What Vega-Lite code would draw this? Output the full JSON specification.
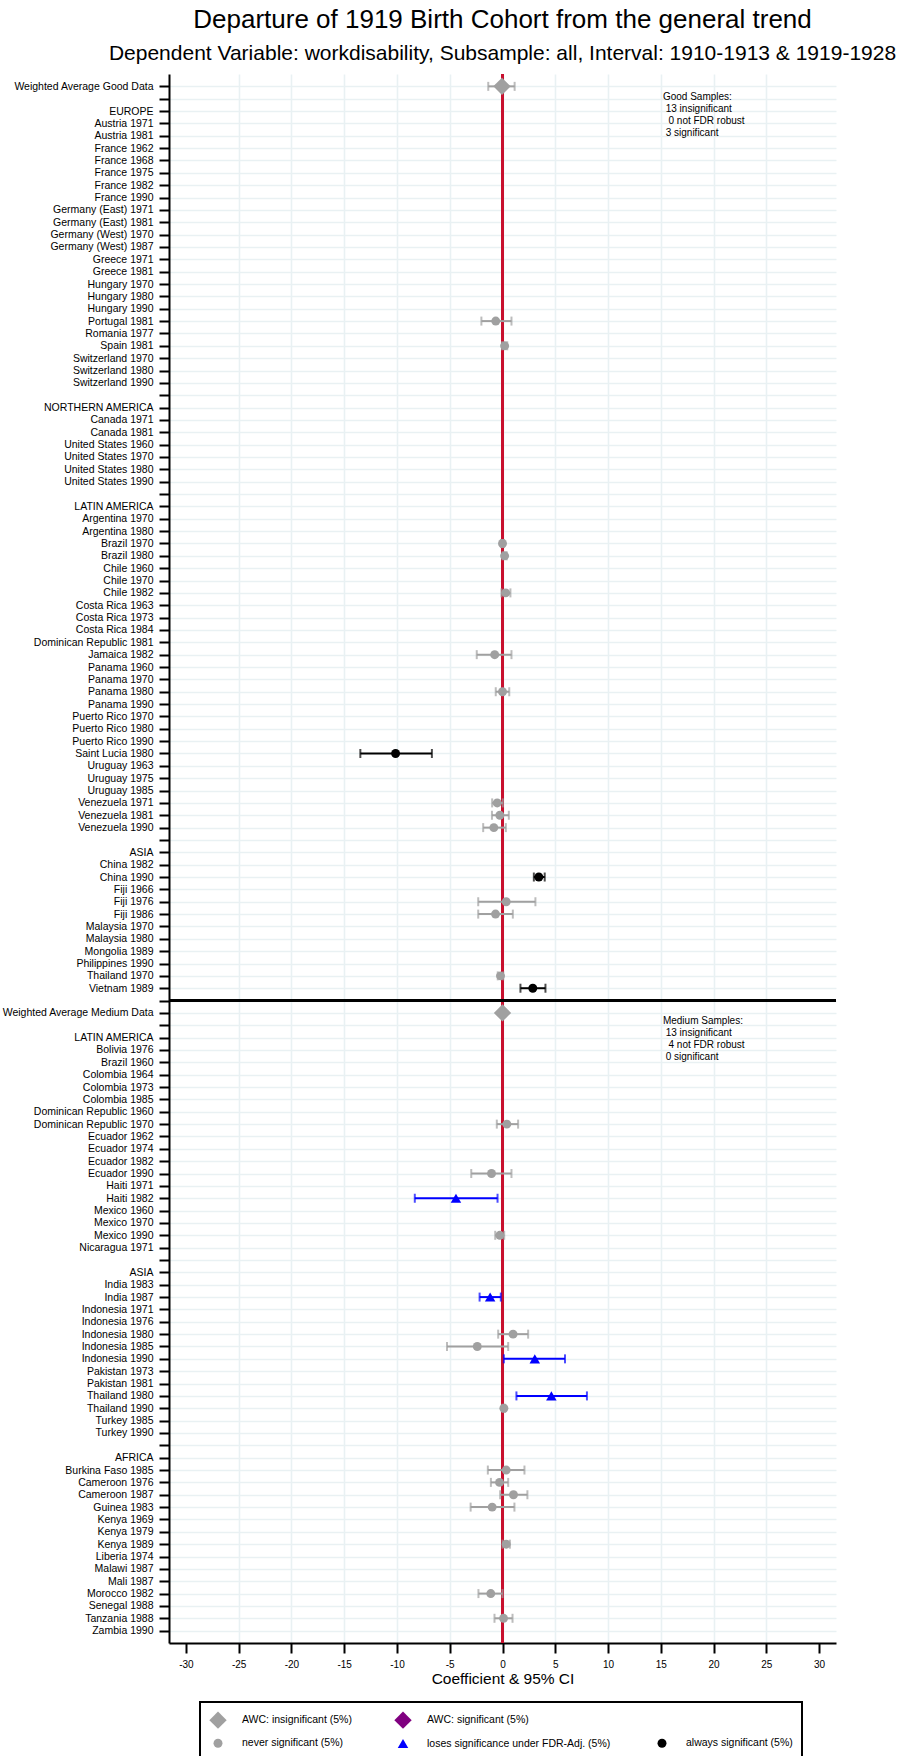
{
  "$schema": "https://vega.github.io/schema/vega-lite/v6.json",
  "width": 667,
  "height": 1569,
  "autosize": {"type": "none"},
  "padding": {"left": 169, "top": 74, "right": 65, "bottom": 113},
  "background": "white",
  "config": {"view": {"stroke": null}, "font": "Liberation Sans", "legend": {"strokeWidth": 2}},
  "title": {
    "text": "Departure of 1919 Birth Cohort from the general trend",
    "subtitle": "Dependent Variable: workdisability, Subsample: all, Interval: 1910-1913 & 1919-1928",
    "font": "Liberation Sans", "fontSize": 26, "fontWeight": "normal", "color": "black",
    "subtitleFont": "Liberation Sans", "subtitleFontSize": 21, "subtitleColor": "black",
    "anchor": "middle", "offset": 9, "subtitlePadding": 10
  },
  "data": {"values": [
    {"label": "Weighted Average Good Data", "est": -0.05, "lo": -1.35, "hi": 1.15, "sig": "AWC: insignificant (5%)"},
    {"label": "Portugal 1981", "est": -0.64, "lo": -2.0, "hi": 0.85, "sig": "never significant (5%)"},
    {"label": "Spain 1981", "est": 0.2, "lo": -0.05, "hi": 0.45, "sig": "never significant (5%)"},
    {"label": "Brazil 1970", "est": 0.0, "lo": -0.15, "hi": 0.15, "sig": "never significant (5%)"},
    {"label": "Brazil 1980", "est": 0.2, "lo": 0.0, "hi": 0.4, "sig": "never significant (5%)"},
    {"label": "Chile 1982", "est": 0.3, "lo": -0.1, "hi": 0.75, "sig": "never significant (5%)"},
    {"label": "Jamaica 1982", "est": -0.74, "lo": -2.44, "hi": 0.85, "sig": "never significant (5%)"},
    {"label": "Panama 1980", "est": 0.0, "lo": -0.64, "hi": 0.64, "sig": "never significant (5%)"},
    {"label": "Saint Lucia 1980", "est": -10.13, "lo": -13.47, "hi": -6.69, "sig": "always significant (5%)"},
    {"label": "Venezuela 1971", "est": -0.5, "lo": -0.98, "hi": 0.03, "sig": "never significant (5%)"},
    {"label": "Venezuela 1981", "est": -0.25, "lo": -1.0, "hi": 0.6, "sig": "never significant (5%)"},
    {"label": "Venezuela 1990", "est": -0.82, "lo": -1.83, "hi": 0.32, "sig": "never significant (5%)"},
    {"label": "China 1990", "est": 3.44, "lo": 2.97, "hi": 4.0, "sig": "always significant (5%)"},
    {"label": "Fiji 1976", "est": 0.35, "lo": -2.3, "hi": 3.12, "sig": "never significant (5%)"},
    {"label": "Fiji 1986", "est": -0.66, "lo": -2.3, "hi": 0.98, "sig": "never significant (5%)"},
    {"label": "Thailand 1970", "est": -0.19, "lo": -0.45, "hi": 0.07, "sig": "never significant (5%)"},
    {"label": "Vietnam 1989", "est": 2.87, "lo": 1.7, "hi": 4.07, "sig": "always significant (5%)"},
    {"label": "Weighted Average Medium Data", "est": 0.0, "lo": -0.25, "hi": 0.25, "sig": "AWC: insignificant (5%)"},
    {"label": "Dominican Republic 1970", "est": 0.41, "lo": -0.54, "hi": 1.48, "sig": "never significant (5%)"},
    {"label": "Ecuador 1990", "est": -1.04, "lo": -2.96, "hi": 0.85, "sig": "never significant (5%)"},
    {"label": "Haiti 1982", "est": -4.41, "lo": -8.31, "hi": -0.47, "sig": "loses significance under FDR-Adj. (5%)"},
    {"label": "Mexico 1990", "est": -0.25, "lo": -0.69, "hi": 0.16, "sig": "never significant (5%)"},
    {"label": "India 1987", "est": -1.17, "lo": -2.17, "hi": -0.16, "sig": "loses significance under FDR-Adj. (5%)"},
    {"label": "Indonesia 1980", "est": 1.0, "lo": -0.41, "hi": 2.43, "sig": "never significant (5%)"},
    {"label": "Indonesia 1985", "est": -2.39, "lo": -5.26, "hi": 0.54, "sig": "never significant (5%)"},
    {"label": "Indonesia 1990", "est": 3.06, "lo": 0.13, "hi": 5.92, "sig": "loses significance under FDR-Adj. (5%)"},
    {"label": "Thailand 1980", "est": 4.63, "lo": 1.32, "hi": 8.0, "sig": "loses significance under FDR-Adj. (5%)"},
    {"label": "Thailand 1990", "est": 0.13, "lo": 0.0, "hi": 0.25, "sig": "never significant (5%)"},
    {"label": "Burkina Faso 1985", "est": 0.35, "lo": -1.39, "hi": 2.08, "sig": "never significant (5%)"},
    {"label": "Cameroon 1976", "est": -0.28, "lo": -1.1, "hi": 0.54, "sig": "never significant (5%)"},
    {"label": "Cameroon 1987", "est": 1.04, "lo": -0.22, "hi": 2.36, "sig": "never significant (5%)"},
    {"label": "Guinea 1983", "est": -0.98, "lo": -3.02, "hi": 1.13, "sig": "never significant (5%)"},
    {"label": "Kenya 1989", "est": 0.35, "lo": 0.0, "hi": 0.7, "sig": "never significant (5%)"},
    {"label": "Morocco 1982", "est": -1.11, "lo": -2.28, "hi": 0.0, "sig": "never significant (5%)"},
    {"label": "Tanzania 1988", "est": 0.1, "lo": -0.76, "hi": 0.95, "sig": "never significant (5%)"}
  ]},
  "layer": [
    {
      "mark": {"type": "rule", "color": "#c8102e", "strokeWidth": 2},
      "encoding": {"x": {"datum": 0}}
    },
    {
      "mark": {"type": "rule", "color": "black", "strokeWidth": 2},
      "encoding": {"y": {"datum": "|5"}}
    },
    {
      "transform": [{"filter": "datum.sig == 'never significant (5%)' || datum.sig == 'AWC: insignificant (5%)'"}],
      "mark": {"type": "errorbar", "color": "#a0a0a0", "thickness": 2, "ticks": {"size": 9, "thickness": 2, "color": "#a0a0a0"}},
      "encoding": {
        "x": {"field": "lo", "type": "quantitative", "title": "Coefficient & 95% CI"},
        "x2": {"field": "hi"},
        "y": {"field": "label", "type": "nominal", "title": null}
      }
    },
    {
      "transform": [{"filter": "datum.sig == 'loses significance under FDR-Adj. (5%)'"}],
      "mark": {"type": "errorbar", "color": "#0000ff", "thickness": 2, "ticks": {"size": 9, "thickness": 2, "color": "#0000ff"}},
      "encoding": {
        "x": {"field": "lo", "type": "quantitative", "title": "Coefficient & 95% CI"},
        "x2": {"field": "hi"},
        "y": {"field": "label", "type": "nominal", "title": null}
      }
    },
    {
      "transform": [{"filter": "datum.sig == 'always significant (5%)'"}],
      "mark": {"type": "errorbar", "color": "#000000", "thickness": 2, "ticks": {"size": 9, "thickness": 2, "color": "#000000"}},
      "encoding": {
        "x": {"field": "lo", "type": "quantitative", "title": "Coefficient & 95% CI"},
        "x2": {"field": "hi"},
        "y": {"field": "label", "type": "nominal", "title": null}
      }
    },
    {
      "mark": {"type": "point", "filled": true, "opacity": 1, "strokeWidth": 0},
      "encoding": {
        "x": {
          "field": "est", "type": "quantitative", "title": "Coefficient & 95% CI",
          "scale": {"domain": [-31.6, 31.6], "nice": false, "zero": false},
          "axis": {
            "values": [-30, -25, -20, -15, -10, -5, 0, 5, 10, 15, 20, 25, 30],
            "labelExpr": "'' + datum.value",
            "labelFont": "Liberation Sans", "labelFontSize": 10, "labelColor": "black", "labelPadding": 6,
            "tickSize": 10, "tickWidth": 2, "tickColor": "black",
            "domainColor": "black", "domainWidth": 2,
            "titleFont": "Liberation Sans", "titleFontSize": 15.5, "titleFontWeight": "normal", "titleColor": "black", "titlePadding": 2,
            "grid": true, "gridColor": "#e9f1f3", "gridWidth": 1.6,
            "gridOpacity": {"condition": {"test": "abs(datum.value) >= 30", "value": 0}, "value": 1}
          }
        },
        "y": {
          "field": "label", "type": "nominal", "title": null,
          "scale": {"type": "point", "padding": 1.19, "domain": [
            "Weighted Average Good Data", "|1", "EUROPE", "Austria 1971", "Austria 1981", "France 1962", "France 1968", "France 1975", "France 1982", "France 1990",
            "Germany (East) 1971", "Germany (East) 1981", "Germany (West) 1970", "Germany (West) 1987", "Greece 1971", "Greece 1981", "Hungary 1970", "Hungary 1980", "Hungary 1990",
            "Portugal 1981", "Romania 1977", "Spain 1981", "Switzerland 1970", "Switzerland 1980", "Switzerland 1990", "|2",
            "NORTHERN AMERICA", "Canada 1971", "Canada 1981", "United States 1960", "United States 1970", "United States 1980", "United States 1990", "|3",
            "LATIN AMERICA", "Argentina 1970", "Argentina 1980", "Brazil 1970", "Brazil 1980", "Chile 1960", "Chile 1970", "Chile 1982", "Costa Rica 1963", "Costa Rica 1973", "Costa Rica 1984",
            "Dominican Republic 1981", "Jamaica 1982", "Panama 1960", "Panama 1970", "Panama 1980", "Panama 1990", "Puerto Rico 1970", "Puerto Rico 1980", "Puerto Rico 1990",
            "Saint Lucia 1980", "Uruguay 1963", "Uruguay 1975", "Uruguay 1985", "Venezuela 1971", "Venezuela 1981", "Venezuela 1990", "|4",
            "ASIA", "China 1982", "China 1990", "Fiji 1966", "Fiji 1976", "Fiji 1986", "Malaysia 1970", "Malaysia 1980", "Mongolia 1989", "Philippines 1990", "Thailand 1970", "Vietnam 1989", "|5",
            "Weighted Average Medium Data", "|6", "LATIN AMERICA|2", "Bolivia 1976", "Brazil 1960", "Colombia 1964", "Colombia 1973", "Colombia 1985", "Dominican Republic 1960", "Dominican Republic 1970",
            "Ecuador 1962", "Ecuador 1974", "Ecuador 1982", "Ecuador 1990", "Haiti 1971", "Haiti 1982", "Mexico 1960", "Mexico 1970", "Mexico 1990", "Nicaragua 1971", "|7",
            "ASIA|2", "India 1983", "India 1987", "Indonesia 1971", "Indonesia 1976", "Indonesia 1980", "Indonesia 1985", "Indonesia 1990", "Pakistan 1973", "Pakistan 1981",
            "Thailand 1980", "Thailand 1990", "Turkey 1985", "Turkey 1990", "|8",
            "AFRICA", "Burkina Faso 1985", "Cameroon 1976", "Cameroon 1987", "Guinea 1983", "Kenya 1969", "Kenya 1979", "Kenya 1989", "Liberia 1974", "Malawi 1987", "Mali 1987",
            "Morocco 1982", "Senegal 1988", "Tanzania 1988", "Zambia 1990"
          ]},
          "axis": {
            "labelExpr": "split(datum.value, '|')[0]",
            "labelFont": "Liberation Sans", "labelFontSize": 10.5, "labelColor": "black", "labelPadding": 6,
            "labelOverlap": false, "labelBound": false,
            "tickSize": 10, "tickWidth": 2, "tickColor": "black",
            "domainColor": "black", "domainWidth": 2,
            "grid": true, "gridColor": "#e9f1f3", "gridWidth": 1.6
          }
        },
        "color": {
          "field": "sig", "type": "nominal",
          "scale": {
            "domain": ["AWC: insignificant (5%)", "AWC: significant (5%)", " ", "never significant (5%)", "loses significance under FDR-Adj. (5%)", "always significant (5%)"],
            "range": ["#a0a0a0", "#800080", "transparent", "#a0a0a0", "#0000ff", "#000000"]
          },
          "legend": {
            "title": null, "orient": "none", "legendX": 31, "legendY": 1628,
            "columns": 3, "direction": "horizontal",
            "labelFont": "Liberation Sans", "labelFontSize": 10.5, "labelColor": "black", "labelOffset": 15, "labelLimit": 400,
            "columnPadding": 42, "rowPadding": 9, "padding": 9,
            "strokeColor": "black", "symbolStrokeWidth": 0, "symbolOpacity": 1
          }
        },
        "shape": {
          "field": "sig", "type": "nominal",
          "scale": {
            "domain": ["AWC: insignificant (5%)", "AWC: significant (5%)", " ", "never significant (5%)", "loses significance under FDR-Adj. (5%)", "always significant (5%)"],
            "range": ["diamond", "diamond", "circle", "circle", "triangle-up", "circle"]
          }
        },
        "size": {
          "field": "sig", "type": "nominal",
          "scale": {
            "type": "ordinal",
            "domain": ["AWC: insignificant (5%)", "AWC: significant (5%)", " ", "never significant (5%)", "loses significance under FDR-Adj. (5%)", "always significant (5%)"],
            "range": [300, 300, 0, 80, 110, 80]
          }
        }
      }
    },
    {
      "data": {"values": [
        {"row": "Weighted Average Good Data", "x": 15.2, "lines": ["Good Samples:", "\u200b\u00a013 insignificant", "\u200b\u00a0\u00a00 not FDR robust", "\u200b\u00a03 significant"]}
      ]},
      "mark": {"type": "text", "align": "left", "baseline": "top", "font": "Liberation Sans", "fontSize": 10, "lineHeight": 12.2, "color": "black", "dy": 5.5},
      "encoding": {
        "x": {"field": "x", "type": "quantitative", "title": "Coefficient & 95% CI"},
        "y": {"field": "row", "type": "nominal", "title": null},
        "text": {"field": "lines"}
      }
    },
    {
      "data": {"values": [
        {"row": "Weighted Average Medium Data", "x": 15.2, "lines": ["Medium Samples:", "\u200b\u00a013 insignificant", "\u200b\u00a0\u00a04 not FDR robust", "\u200b\u00a00 significant"]}
      ]},
      "mark": {"type": "text", "align": "left", "baseline": "top", "font": "Liberation Sans", "fontSize": 10, "lineHeight": 11.8, "color": "black", "dy": 3.5},
      "encoding": {
        "x": {"field": "x", "type": "quantitative", "title": "Coefficient & 95% CI"},
        "y": {"field": "row", "type": "nominal", "title": null},
        "text": {"field": "lines"}
      }
    }
  ]
}
